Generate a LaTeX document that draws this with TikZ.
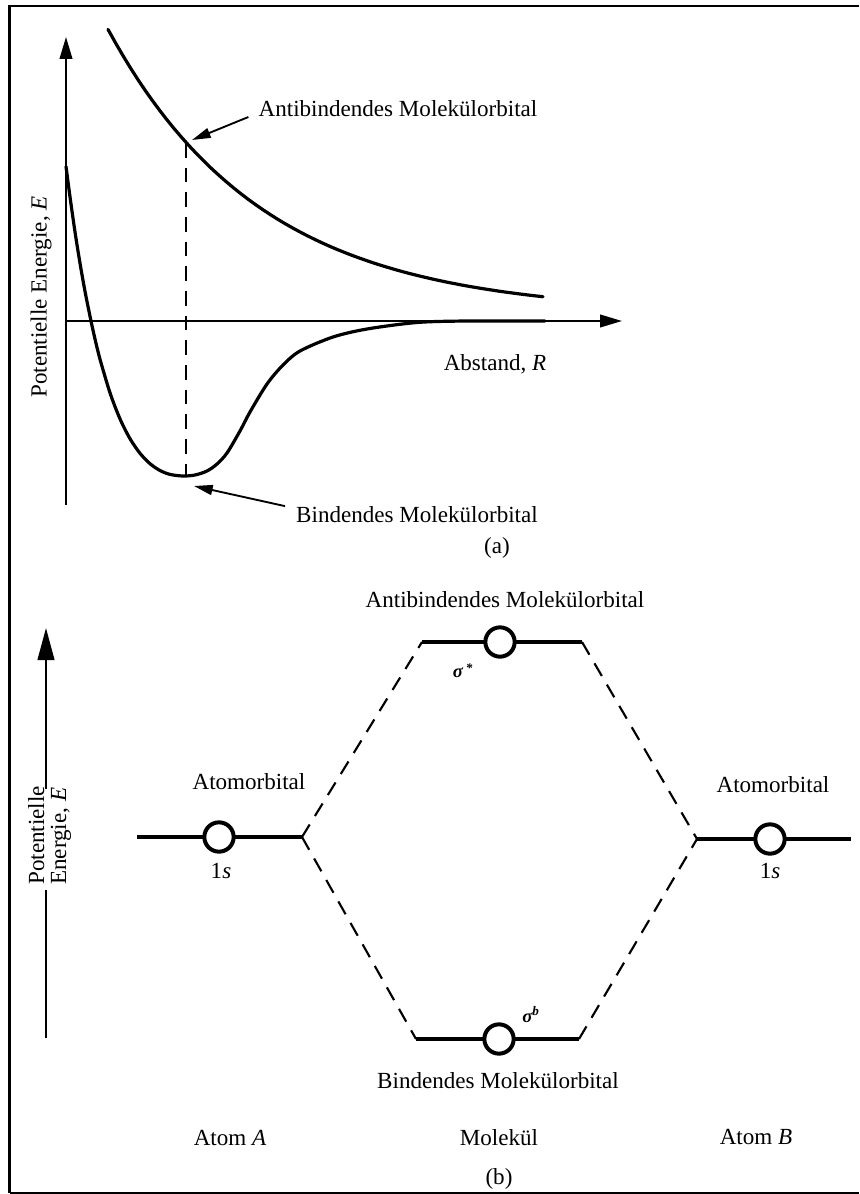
\documentclass[tikz,border=0pt]{standalone}
\usepackage{fontspec}
\setmainfont{Liberation Serif}
\usetikzlibrary{arrows.meta}
\begin{document}
\begin{tikzpicture}[x=0.75pt,y=-0.75pt,
  axis/.style={line width=1.5pt, -{Triangle[length=16.5pt,width=9.5pt]}},
  bigaxis/.style={line width=1.6pt, -{Triangle[length=24pt,width=12.5pt]}},
  plain/.style={line width=1.6pt},
  curve/.style={line width=2.4pt, line cap=round},
  guide/.style={line width=1.6pt, dash pattern=on 11pt off 7.5pt},
  pointer/.style={line width=1.4pt, -{Triangle[length=14pt,width=7.5pt]}},
  level/.style={line width=3.4pt},
  orb/.style={circle, draw, line width=3pt, minimum size=22pt, inner sep=0pt, fill=white},
  txt/.style={font=\fontsize{17.3}{20}\selectfont, inner sep=0pt, anchor=base},
  small/.style={font=\fontsize{14}{16}\selectfont\bfseries\itshape, inner sep=0pt, anchor=base},
]
\useasboundingbox (0,0) rectangle (859,1194);
% frame
\draw[line width=2pt] (859,6) -- (9.7,6) -- (9.7,1193);
\draw[line width=1.2pt] (9.7,1193) -- (859,1193);

% ---------- part (a) ----------
\coordinate (O) at (66,321);
\coordinate (Ytop) at (66,37);
\coordinate (Ybot) at (66,505);
\coordinate (Xend) at (622,321);
\draw[axis] (Ybot) -- (Ytop);
\draw[axis] (O) -- (Xend);

% antibonding curve
\draw[curve] plot[domain=108:543, samples=60] (\x,{313.5-573.3*exp(-0.0065*\x)});
% bonding curve (Morse-like left wall, steeper right side)
\draw[curve] plot[smooth, tension=0.5] coordinates {(66,166.5) (70,196.8) (75,231.9) (80,263.2) (85,291.3) (91,321) (95,339) (100,359.2) (110,392.8) (120,418.9) (130,438.7) (140,453.3) (150,463.7) (160,470.5) (170,474.4) (183,476) (195,475) (207,471) (217,464) (227,453) (240,431) (250,412) (267,384) (283,365) (300,351) (333,337) (367,329) (417,322.5) (467,321) (545,321)};

\coordinate (dTop) at (186,143);
\coordinate (dBot) at (186,476);
\draw[guide] (dTop) -- (dBot);

\node[txt] (antiA) at (398,117) {Antibindendes Molekülorbital};
\coordinate (pA) at (192,140);
\draw[pointer] ([xshift=-7.5pt]antiA.base west) -- (pA);

\node[txt] (bondA) at (417,522) {Bindendes Molekülorbital};
\coordinate (pB) at (194,486);
\draw[pointer] ([shift={(-11,-8)}]bondA.west) -- (pB);

\node[txt] (abst) at (495,370) {Abstand, \textit{R}};
\node[txt, rotate=90, anchor=base west] (yA) at (46.5,398) {Potentielle Energie, \textit{E}};
\node[txt] (capa) at (497,553) {(a)};

% ---------- part (b) ----------
\coordinate (eb) at (46,1038);
\coordinate (gapLo) at (46,890);
\coordinate (gapHi) at (46,789);
\coordinate (et) at (46,628);
\draw[plain] (eb) -- (gapLo);
\draw[bigaxis] (gapHi) -- (et);
\node[txt, rotate=90, anchor=base west] (yB1) at (44,885) {Potentielle};
\node[txt, rotate=90, anchor=base west] (yB2) at (66,885) {Energie, \textit{E}};

% levels
\coordinate (A1) at (137,837); \coordinate (A2) at (302,837);
\coordinate (S1) at (422,642); \coordinate (S2) at (582,642);
\coordinate (B1) at (697,839); \coordinate (B2) at (851,839);
\coordinate (b1) at (416,1039); \coordinate (b2) at (579,1039);

\draw[guide] (A2) -- (S1);
\draw[guide] (A2) -- (b1);
\draw[guide] (S2) -- (B1);
\draw[guide] (b2) -- (B1);

\draw[level] (A1) -- (A2);
\draw[level] (S1) -- (S2);
\draw[level] (B1) -- (B2);
\draw[level] (b1) -- (b2);

\node[orb] (cA) at (219,837) {};
\node[orb] (cS) at (500,642) {};
\node[orb] (cB) at (770,839) {};
\node[orb] (cb) at (499,1039) {};

\node[txt] (antiB) at (505,607) {Antibindendes Molekülorbital};
\node[txt] (atA) at (249,789) {Atomorbital};
\node[txt] (atB) at (773,792) {Atomorbital};
\node[txt] (sA) at (221,878) {1\textit{s}};
\node[txt] (sB) at (770,878) {1\textit{s}};
\node[small] (sig1) at (463,677) {σ\,\raisebox{-0.15em}{\textsuperscript{*}}};
\node[small] (sig2) at (531,1022) {σ\textsuperscript{\textit{b}}};
\node[txt] (bondB) at (498,1088) {Bindendes Molekülorbital};
\node[txt] (atomA) at (230,1145) {Atom \textit{A}};
\node[txt] (mol) at (499,1145) {Molekül};
\node[txt] (atomB) at (756,1144) {Atom \textit{B}};
\node[txt] (capb) at (499,1184) {(b)};
\end{tikzpicture}
\end{document}
